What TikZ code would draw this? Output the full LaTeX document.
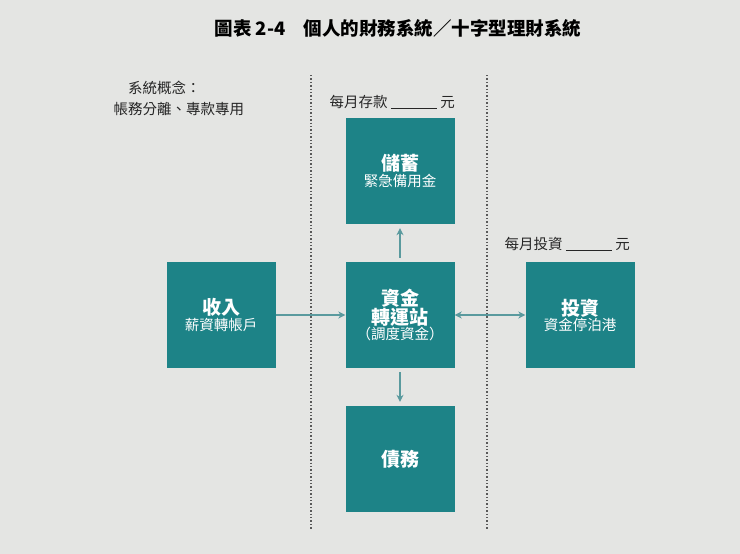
\documentclass[tikz,border=0pt]{standalone}
\usepackage{fontspec}
\setmainfont{Noto Sans CJK TC}
\usetikzlibrary{arrows.meta}
\definecolor{teal1}{HTML}{1D8387}
\definecolor{bg}{HTML}{E4E5E3}
\definecolor{arr}{HTML}{5A9A9E}
\newcommand\bigt{\fontsize{19}{27}\selectfont\bfseries}
\newcommand\smt{\fontsize{14.5}{22}\selectfont\mdseries}
\tikzset{
 box/.style={fill=teal1,minimum width=109pt,minimum height=106pt,text=white,align=center,inner sep=0pt},
 conn/.style={arr,line width=1.3pt,-{Stealth[length=7pt,width=7pt]}},
 sep/.style={gray!70!black,dotted,line width=1.4pt},
 lab/.style={anchor=west,font=\fontsize{14.5}{21}\selectfont,text=black!85}
}
\begin{document}
\begin{tikzpicture}[x=1pt,y=-1pt]
\fill[bg] (0,0) rectangle (740,554);
\useasboundingbox (0,0) rectangle (740,554);
\node[font=\bfseries\fontsize{18.5}{22}\selectfont] (title) at (398,28) {圖表 2-4\quad 個人的財務系統／十字型理財系統};
\node[lab,align=left] (concept) at (110,98) {\hspace{1em}系統概念：\\帳務分離、專款專用};
\node[lab] (save) at (326,102) {每月存款 \underline{\hspace{3.2em}} 元};
\node[lab] (inv) at (501,244) {每月投資 \underline{\hspace{3.2em}} 元};
\coordinate (l1t) at (311,75); \coordinate (l1b) at (311,530);
\coordinate (l2t) at (487,75); \coordinate (l2b) at (487,530);
\draw[sep] (l1t) -- (l1b);
\draw[sep] (l2t) -- (l2b);
\node[box] (chu) at (400,171) {\bigt 儲蓄\\ \smt 緊急備用金};
\node[box] (shou) at (221,315) {\bigt 收入\\ \smt 薪資轉帳戶};
\node[box] (zi) at (400,315) {\bigt 資金\\ \bigt 轉運站\\ \smt （調度資金）};
\node[box] (tou) at (580,315) {\bigt 投資\\ \smt 資金停泊港};
\node[box] (zhai) at (400,459) {\bigt 債務};
\draw[conn] (shou) -- (zi);
\draw[conn,{Stealth[length=7pt,width=7pt]}-{Stealth[length=7pt,width=7pt]}] (zi) -- (tou);
\draw[conn,shorten <=4pt,shorten >=4pt] (zi) -- (chu);
\draw[conn,shorten <=4pt,shorten >=4pt] (zi) -- (zhai);
\end{tikzpicture}
\end{document}
